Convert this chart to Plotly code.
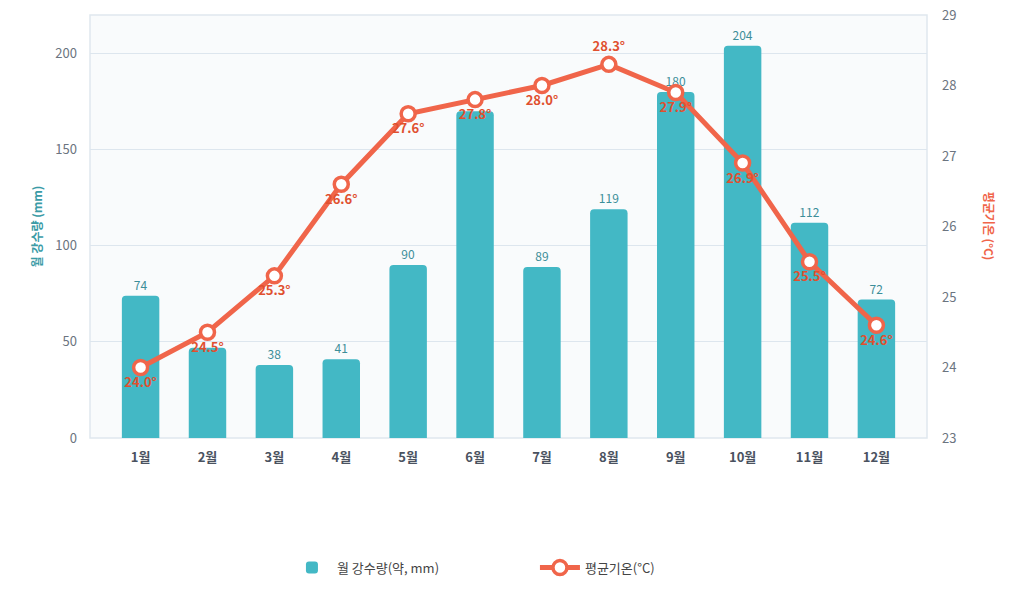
import plotly.graph_objects as go

months = ["1월", "2월", "3월", "4월", "5월", "6월", "7월", "8월", "9월", "10월", "11월", "12월"]
rainfall = [74, 47, 38, 41, 90, 170, 89, 119, 180, 204, 112, 72]
temperature = [24.0, 24.5, 25.3, 26.6, 27.6, 27.8, 28.0, 28.3, 27.9, 26.9, 25.5, 24.6]
rain_name = "월 강수량(약, mm)"
temp_name = "평균기온(°C)"
left_title = "월 강수량 (mm)"
right_title = "평균기온 (°C)"

hidden_rain_labels = {1, 5}
rain_text = ["" if i in hidden_rain_labels else str(v) for i, v in enumerate(rainfall)]
temp_text = [f"{v:.1f}°" for v in temperature]
temp_pos = ["top center" if v == max(temperature) else "bottom center" for v in temperature]

FONT = "Noto Sans CJK KR"
TEAL = "#43b8c5"
ORANGE = "#f0654a"

fig = go.Figure()
fig.add_trace(go.Bar(
    x=months, y=rainfall, name=rain_name,
    marker=dict(color=TEAL, cornerradius=4, line=dict(width=0)),
    width=0.56,
    text=rain_text, textposition="outside",
    textfont=dict(color="#3c8e99", size=12, family=FONT),
    cliponaxis=False,
    yaxis="y",
))
fig.add_trace(go.Scatter(
    x=months, y=temperature, name=temp_name,
    mode="lines+markers+text",
    line=dict(color=ORANGE, width=5),
    marker=dict(size=14, color="white", line=dict(color=ORANGE, width=3.5)),
    text=temp_text, textposition=temp_pos,
    textfont=dict(color="#e0502f", size=13, family=FONT, weight="bold"),
    cliponaxis=False,
    yaxis="y2",
))

fig.update_layout(
    width=1024, height=608,
    margin=dict(l=90, r=97, t=15, b=170, autoexpand=False),
    paper_bgcolor="white",
    plot_bgcolor="#f9fbfc",
    font=dict(family=FONT, color="#555"),
    showlegend=True,
    legend=dict(
        orientation="h", x=0.2353, xanchor="left", y=-0.271, yanchor="top",
        font=dict(size=13, color="#444", family=FONT),
        itemwidth=40, entrywidthmode="pixels", entrywidth=193,
    ),
    xaxis=dict(
        showgrid=False, showline=False, zeroline=False,
        tickfont=dict(size=13, color="#4a5260", family=FONT, weight="bold"),
        ticks="", ticklabelstandoff=10, automargin=False,
    ),
    yaxis=dict(
        range=[0, 220], tickvals=[0, 50, 100, 150, 200],
        showgrid=True, gridcolor="#dde6ee", gridwidth=1,
        zeroline=False, showline=False,
        tickfont=dict(size=13, color="#6b7480"),
        ticklabelstandoff=12, automargin=False, ticklabeloverflow="allow",
        title=dict(text=left_title, font=dict(size=12, color="#3a9ba6", weight="bold"), standoff=10),
    ),
    yaxis2=dict(
        range=[23, 29], tickvals=[23, 24, 25, 26, 27, 28, 29],
        overlaying="y", side="right",
        showgrid=False, zeroline=False, showline=False,
        tickfont=dict(size=13, color="#6b7480"),
        ticklabelstandoff=14, automargin=False, ticklabeloverflow="allow",
    ),
    annotations=[dict(
        text=right_title, xref="paper", yref="paper", x=1.075, y=0.5,
        xanchor="center", yanchor="middle", textangle=90, showarrow=False,
        font=dict(size=12, color=ORANGE, family=FONT, weight="bold"),
    )],
    shapes=[dict(
        type="rect", xref="paper", yref="paper", x0=0, x1=1, y0=0, y1=1,
        line=dict(color="#dfe8ee", width=1.5), layer="below",
    )],
)

fig.write_html("out.html", config={"displayModeBar": False},
               post_script="document.body.style.margin='0';")
